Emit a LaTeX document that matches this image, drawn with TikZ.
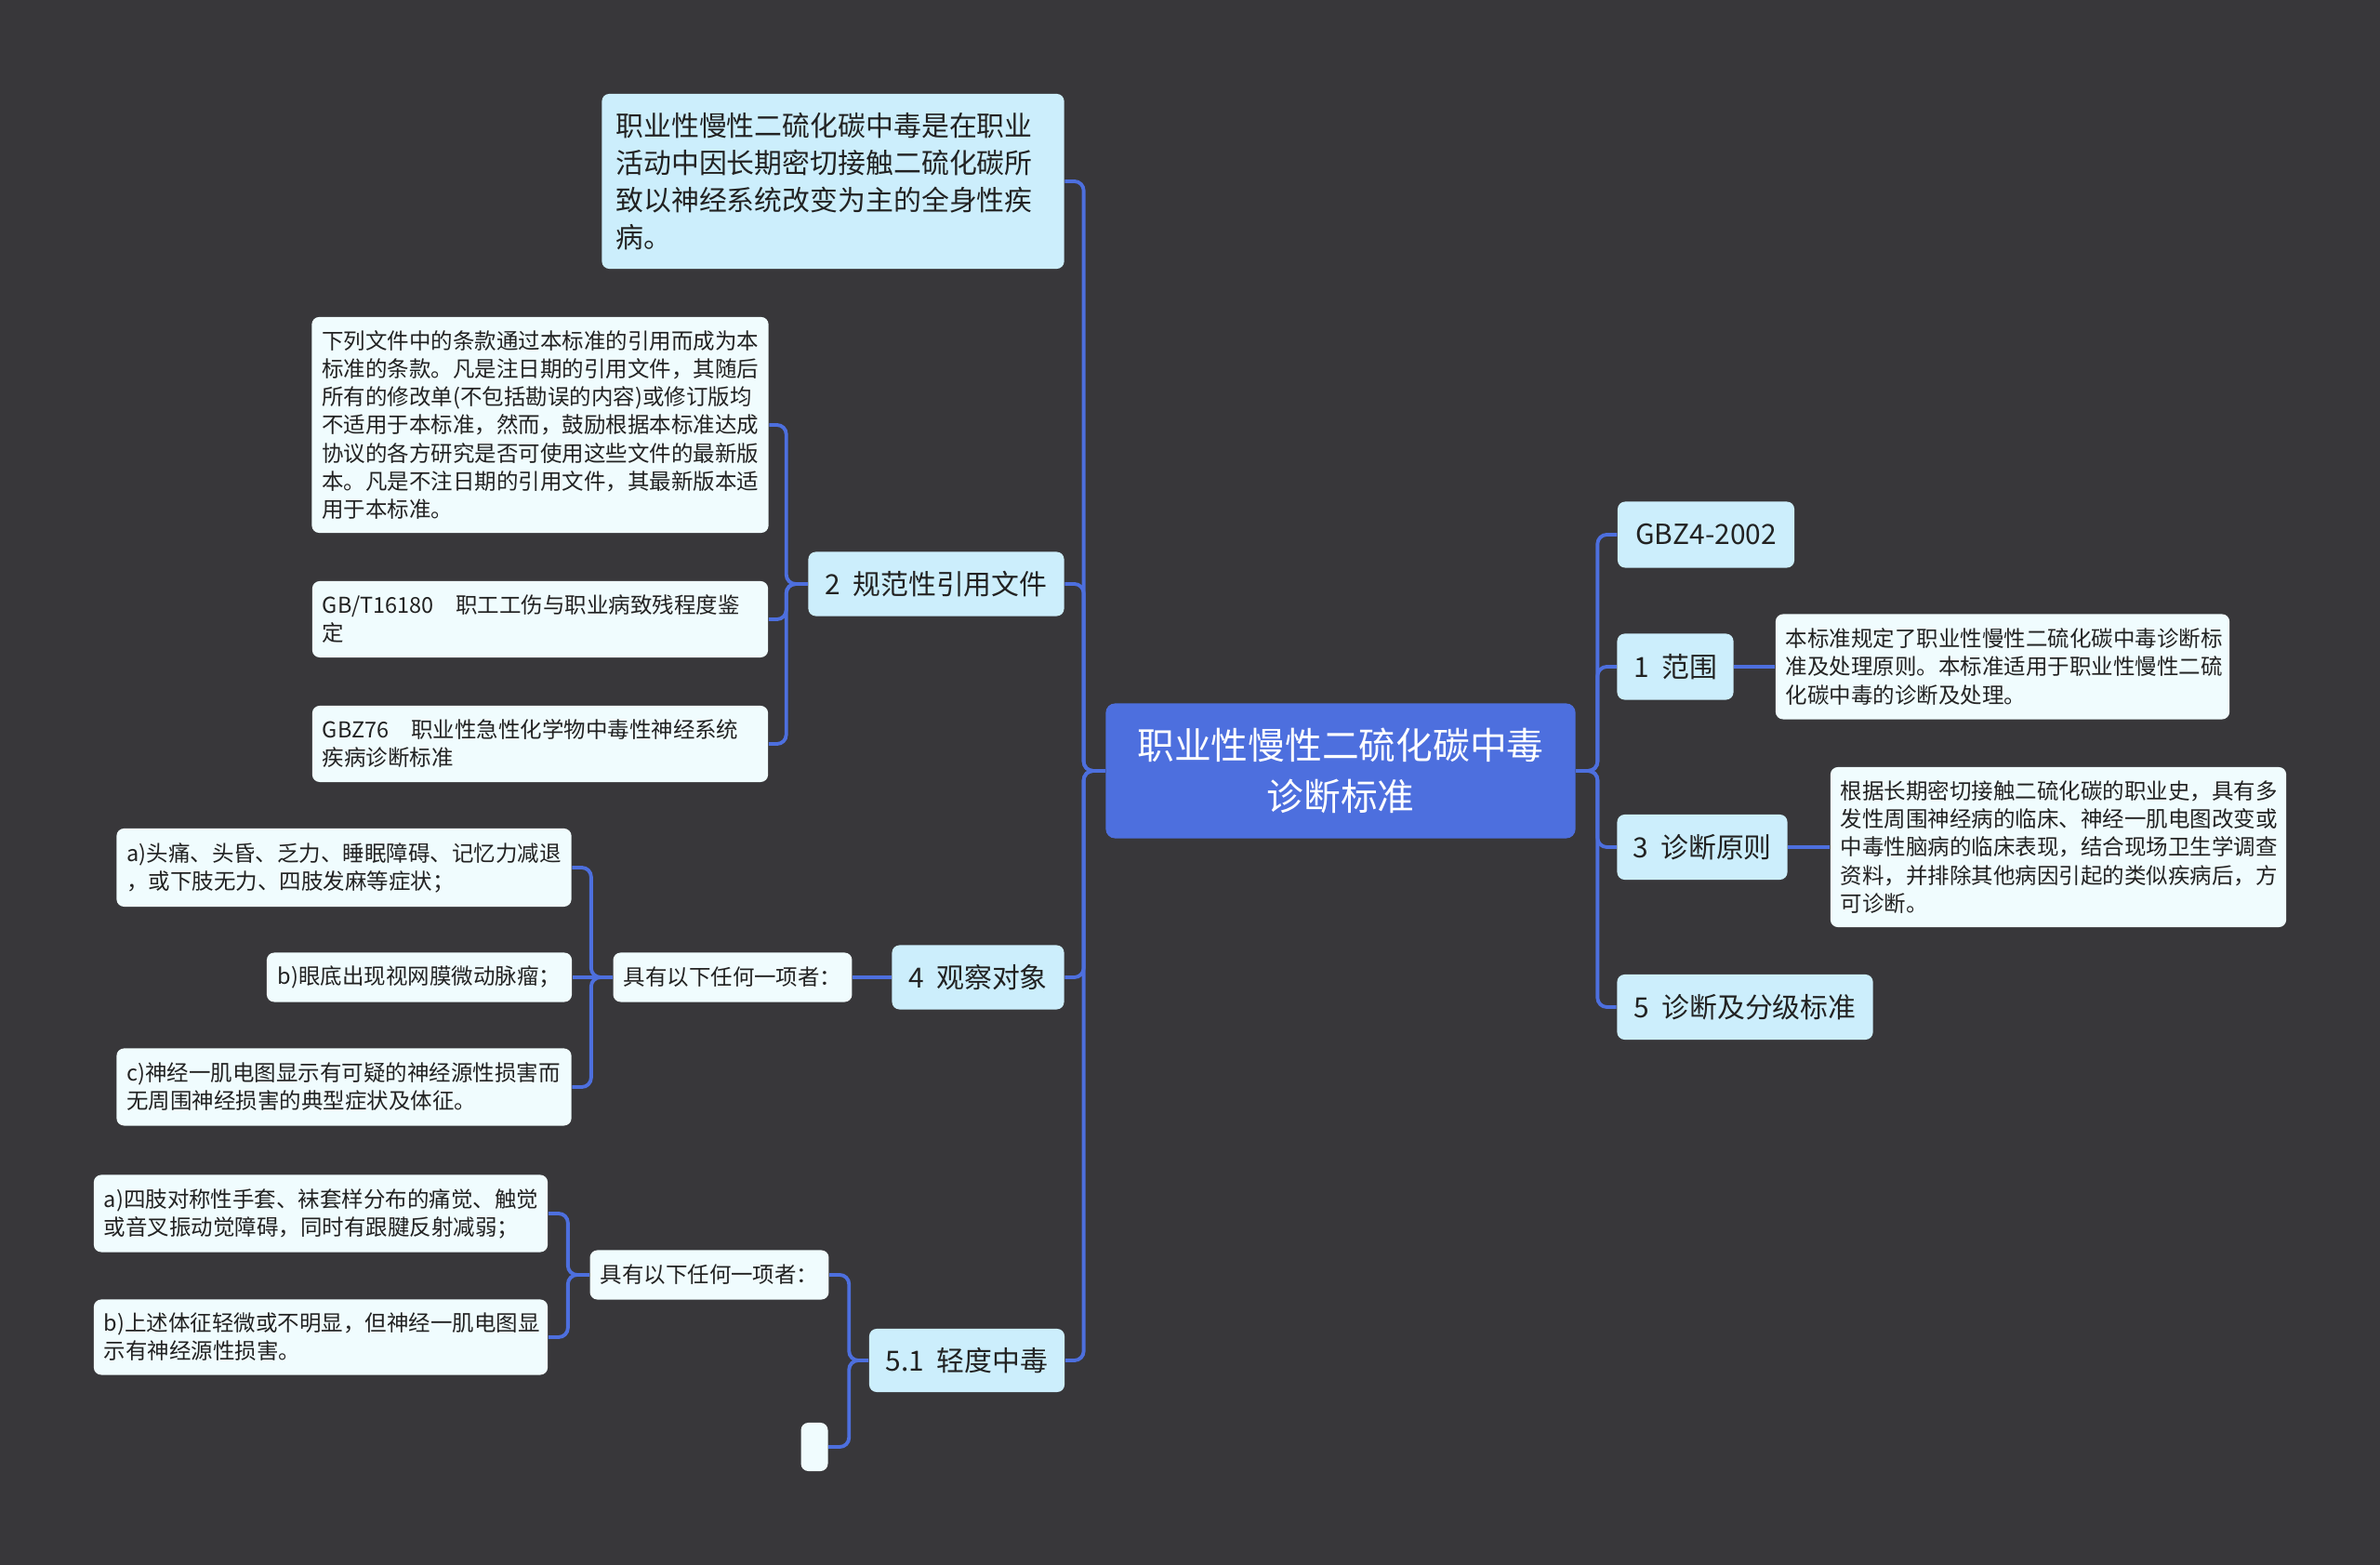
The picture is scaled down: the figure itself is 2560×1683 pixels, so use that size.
\documentclass[tikz,border=0pt]{standalone}
\usepackage{fontspec}
\setmainfont{Noto Sans CJK SC}
\usepackage{xcolor}
\usepackage{tikz}
\usetikzlibrary{positioning,calc}

\definecolor{bgdark}{HTML}{38373A}
\definecolor{rootblue}{HTML}{4D6FDE}
\definecolor{topicblue}{HTML}{CCEEFC}
\definecolor{leafwhite}{HTML}{F0FCFE}
\definecolor{linkblue}{HTML}{4D6FDE}
\definecolor{inkgray}{HTML}{222222}

\tikzset{
	rootbox/.style={rounded corners=0.1cm, fill=rootblue, text=white, align=center, inner sep=0pt,
		font=\fontsize{11.3}{15.6}\selectfont, minimum width=5.05cm, minimum height=1.45cm},
	topicbox/.style={rounded corners=0.08cm, fill=topicblue, text=inkgray, inner sep=0pt,
		font=\fontsize{8.5}{11.4}\selectfont},
	leafbox/.style={rounded corners=0.08cm, fill=leafwhite, text=inkgray, align=left,
		inner xsep=0.11cm, inner ysep=0pt, font=\fontsize{6.68}{8.55}\selectfont},
	conn/.style={draw=linkblue, line width=1.1pt, rounded corners=0.1cm},
}

\begin{document}
\begin{tikzpicture}[x=0.01cm, y=-0.01cm]
		\fill[bgdark] (0,0) rectangle (2560,1683);
		\useasboundingbox (0,0) rectangle (2560,1683);

		% centre
		\node[rootbox] (root) at (1442,829) {职业性慢性二硫化碳中毒\\诊断标准};

		% left branches
		\node[topicbox, text width=4.67cm, align=left, inner xsep=0.15cm, minimum height=1.88cm] (t0) at (896,195) {职业性慢性二硫化碳中毒是在职业\\活动中因长期密切接触二硫化碳所\\致以神经系统改变为主的全身性疾\\病。};
		\node[topicbox, minimum width=2.75cm, minimum height=0.69cm] (t2) at (1007,628) {2\ \ 规范性引用文件};
		\node[topicbox, minimum width=1.85cm, minimum height=0.69cm] (t4) at (1052,1051) {4\ \ 观察对象};
		\node[topicbox, minimum width=2.10cm, minimum height=0.68cm] (t51) at (1040,1463) {5.1\ \ 轻度中毒};

		\node[leafbox, text width=4.69cm, minimum height=2.32cm] (l2a) at (581,457) {下列文件中的条款通过本标准的引用而成为本\\标准的条款。凡是注日期的引用文件，其随后\\所有的修改单(不包括勘误的内容)或修订版均\\不适用于本标准，然而，鼓励根据本标准达成\\协议的各方研究是否可使用这些文件的最新版\\本。凡是不注日期的引用文件，其最新版本适\\用于本标准。};
		\node[leafbox, text width=4.68cm, minimum height=0.82cm] (l2b) at (581,666) {GB/T16180\quad 职工工伤与职业病致残程度鉴\\定};
		\node[leafbox, text width=4.68cm, minimum height=0.82cm] (l2c) at (581,800) {GBZ76\quad 职业性急性化学物中毒性神经系统\\疾病诊断标准};

		\node[leafbox, minimum width=2.56cm, minimum height=0.53cm] (k4) at (788,1051) {具有以下任何一项者：};
		\node[leafbox, text width=4.67cm, minimum height=0.84cm] (l4a) at (370,933) {a)头痛、头昏、乏力、睡眠障碍、记忆力减退\\，或下肢无力、四肢发麻等症状；};
		\node[leafbox, minimum width=3.28cm, minimum height=0.53cm] (l4b) at (451,1051) {b)眼底出现视网膜微动脉瘤；};
		\node[leafbox, text width=4.67cm, minimum height=0.83cm] (l4c) at (370,1169) {c)神经一肌电图显示有可疑的神经源性损害而\\无周围神经损害的典型症状及体征。};

		\node[leafbox, minimum width=2.56cm, minimum height=0.53cm] (k51) at (763,1371) {具有以下任何一项者：};
		\node[leafbox, minimum width=0.29cm, minimum height=0.52cm] (e51) at (876,1556) {};
		\node[leafbox, text width=4.66cm, minimum height=0.83cm] (l51a) at (345,1305) {a)四肢对称性手套、袜套样分布的痛觉、触觉\\或音叉振动觉障碍，同时有跟腱反射减弱；};
		\node[leafbox, text width=4.66cm, minimum height=0.81cm] (l51b) at (345,1438) {b)上述体征轻微或不明显，但神经一肌电图显\\示有神经源性损害。};

		% right branches
		\node[topicbox, minimum width=1.90cm, minimum height=0.71cm] (r0) at (1835,575) {GBZ4-2002};
		\node[topicbox, minimum width=1.25cm, minimum height=0.71cm] (r1) at (1802,717) {1\ \ 范围};
		\node[topicbox, minimum width=1.83cm, minimum height=0.70cm] (r3) at (1831,911) {3\ \ 诊断原则};
		\node[topicbox, minimum width=2.75cm, minimum height=0.70cm] (r5) at (1877,1083) {5\ \ 诊断及分级标准};

		\node[leafbox, text width=4.66cm, minimum height=1.13cm] (r1d) at (2154,717) {本标准规定了职业性慢性二硫化碳中毒诊断标\\准及处理原则。本标准适用于职业性慢性二硫\\化碳中毒的诊断及处理。};
		\node[leafbox, text width=4.68cm, minimum height=1.72cm] (r3d) at (2214,911) {根据长期密切接触二硫化碳的职业史，具有多\\发性周围神经病的临床、神经一肌电图改变或\\中毒性脑病的临床表现，结合现场卫生学调查\\资料，并排除其他病因引起的类似疾病后，方\\可诊断。};

		% connectors
		\foreach \kid in {t0,t2,t4,t51}
			\draw[conn] (root.west) -- ++(-23,0) |- (\kid.east);
		\foreach \kid in {r0,r1,r3,r5}
			\draw[conn] (root.east) -- ++(23,0) |- (\kid.west);
		\foreach \kid in {l2a,l2b,l2c}
			\draw[conn] (t2.west) -- ++(-23,0) |- (\kid.east);
		\draw[conn] (t4.west) -- (k4.east);
		\draw[conn] (k4.west) -- ++(-23,0) |- (l4a.east);
		\draw[conn] (k4.west) -- (l4b.east);
		\draw[conn] (k4.west) -- ++(-23,0) |- (l4c.east);
		\foreach \kid in {k51,e51}
			\draw[conn] (t51.west) -- ++(-21,0) |- (\kid.east);
		\foreach \kid in {l51a,l51b}
			\draw[conn] (k51.west) -- ++(-23,0) |- (\kid.east);
		\draw[conn] (r1.east) -- (r1d.west);
		\draw[conn] (r3.east) -- (r3d.west);
	\end{tikzpicture}
\end{document}
